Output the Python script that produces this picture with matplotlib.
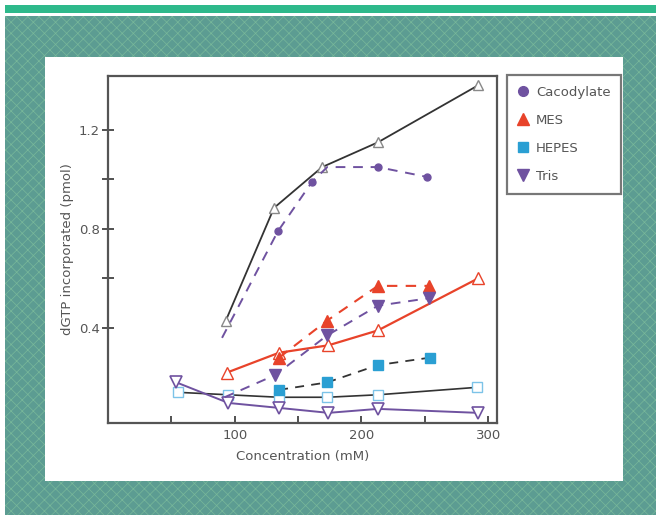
import matplotlib
matplotlib.use("Agg")
import matplotlib.pyplot as plt
from matplotlib.patches import Rectangle
from matplotlib.lines import Line2D

W, H = 656, 515

# series (x = concentration in mM, y = dGTP incorporated)
caco_open_x = [93, 131, 169, 213, 292]
caco_open_y = [0.43, 0.885, 1.05, 1.15, 1.38]
caco_fill_x = [90, 134, 161, 173, 213, 252]
caco_fill_y = [0.36, 0.79, 0.99, 1.05, 1.05, 1.01]

mes_open_x = [94, 135, 174, 213, 292]
mes_open_y = [0.22, 0.30, 0.33, 0.39, 0.60]
mes_fill_x = [135, 173, 213, 253]
mes_fill_y = [0.28, 0.43, 0.57, 0.57]

hepes_open_x = [55, 95, 135, 173, 213, 291]
hepes_open_y = [0.14, 0.13, 0.12, 0.12, 0.13, 0.16]
hepes_fill_x = [135, 173, 213, 254]
hepes_fill_y = [0.15, 0.18, 0.25, 0.28]

tris_open_x = [54, 95, 135, 174, 213, 292]
tris_open_y = [0.18, 0.097, 0.077, 0.057, 0.073, 0.057]
tris_fill_x = [92, 132, 173, 213, 253]
tris_fill_y = [0.12, 0.21, 0.37, 0.49, 0.52]

legend_labels = ["Cacodylate", "MES", "HEPES", "Tris"]

PURPLE = "#6f52a0"
RED = "#e8432a"
BLUE = "#2a9fd3"
DARK = "#333333"
GRAY_TXT = "#555555"

fig = plt.figure(figsize=(W / 100, H / 100), dpi=100)
fig.patch.set_facecolor("white")

# page decoration: green bar, textured teal frame, white panel
plt.rcParams["hatch.linewidth"] = 0.5
fig.patches.append(Rectangle((5 / W, 1 - 13 / H), 651 / W, 8 / H, transform=fig.transFigure,
                             facecolor="#2eb98b", edgecolor="none", zorder=0))
fig.patches.append(Rectangle((5 / W, 0), 651 / W, (H - 16) / H, transform=fig.transFigure,
                             facecolor="#5c9c92", edgecolor="#78b89a", hatch="xxx", lw=0, zorder=0))
fig.patches.append(Rectangle((45 / W, 1 - 481 / H), 578 / W, 424 / H, transform=fig.transFigure,
                             facecolor="white", edgecolor="none", zorder=1))

ax = fig.add_axes([108 / W, 1 - 423 / H, 389 / W, 347 / H])
ax.set_facecolor("white")
ax.set_zorder(2)

# solid lines with open markers
ax.plot(caco_open_x, caco_open_y, color=DARK, lw=1.3, marker="^", ms=7,
        mfc="white", mec="#888888", mew=1)
ax.plot(mes_open_x, mes_open_y, color=RED, lw=1.6, marker="^", ms=8,
        mfc="white", mec=RED, mew=1)
ax.plot(hepes_open_x, hepes_open_y, color=DARK, lw=1.2, marker="s", ms=7,
        mfc="white", mec="#7cc3e8", mew=1)
ax.plot(tris_open_x, tris_open_y, color=PURPLE, lw=1.4, marker="v", ms=8,
        mfc="white", mec=PURPLE, mew=1.2)

# dashed lines with filled markers
ax.plot(caco_fill_x, caco_fill_y, color=PURPLE, lw=1.4, ls=(0, (5, 4)), marker="o", ms=5,
        mfc=PURPLE, mec=PURPLE, markevery=[1, 2, 4, 5])
ax.plot(mes_fill_x, mes_fill_y, color=RED, lw=1.5, ls=(0, (5, 4)), marker="^", ms=9,
        mfc=RED, mec=RED)
ax.plot(hepes_fill_x, hepes_fill_y, color=DARK, lw=1.3, ls=(0, (5, 4)), marker="s", ms=7,
        mfc=BLUE, mec=BLUE)
ax.plot(tris_fill_x, tris_fill_y, color=PURPLE, lw=1.4, ls=(0, (5, 4)), marker="v", ms=9,
        mfc=PURPLE, mec=PURPLE, markevery=[1, 2, 3, 4])

ax.set_xlim(0, 307)
ax.set_ylim(0.016, 1.418)

ax.set_xticks([100, 200, 300])
ax.set_xticks([50, 150, 250], minor=True)
ax.set_yticks([0.4, 0.8, 1.2])
ax.set_yticks([0.6, 1.0], minor=True)
ax.tick_params(axis="x", which="both", direction="in", length=5, width=1.2,
               color=DARK, labelcolor=GRAY_TXT, labelsize=9.5, pad=4)
ax.tick_params(axis="y", which="both", direction="inout", length=8, width=1.2,
               color=DARK, labelcolor=GRAY_TXT, labelsize=9.5, pad=2)
for s in ax.spines.values():
    s.set_color("#555555")
    s.set_linewidth(1.6)

ax.set_xlabel("Concentration (mM)", color=GRAY_TXT, fontsize=9.5, labelpad=6)
ax.set_ylabel("dGTP incorporated (pmol)", color=GRAY_TXT, fontsize=9.5, labelpad=3)

handles = [
    Line2D([], [], ls="none", marker="o", ms=7, mfc=PURPLE, mec=PURPLE),
    Line2D([], [], ls="none", marker="^", ms=9, mfc=RED, mec=RED),
    Line2D([], [], ls="none", marker="s", ms=7, mfc=BLUE, mec=BLUE),
    Line2D([], [], ls="none", marker="v", ms=8, mfc=PURPLE, mec=PURPLE),
]
leg = ax.legend(handles, legend_labels, loc="upper left",
                bbox_to_anchor=(507 / W, 1 - 75 / H), bbox_transform=fig.transFigure,
                fancybox=False, frameon=True, fontsize=9.5, labelcolor=GRAY_TXT,
                handlelength=0.8, handletextpad=0.6, labelspacing=1.15,
                borderpad=0.8, borderaxespad=0)
leg.get_frame().set_edgecolor("#555555")
leg.get_frame().set_linewidth(1.6)

fig.savefig("out.png", dpi=100)
